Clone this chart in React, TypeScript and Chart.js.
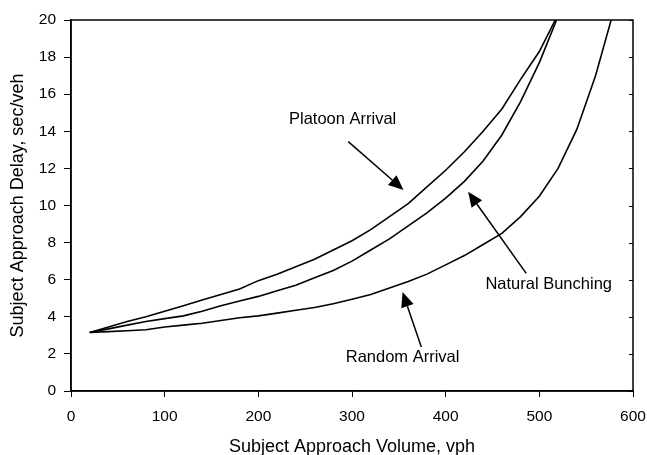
import React, { useEffect, useRef } from "react";
import { Chart, registerables } from "chart.js";

Chart.register(...registerables);

const volumes = [20, 40, 60, 80, 100, 120, 140, 160, 180, 200, 220, 240, 260, 280, 300, 320, 340, 360, 380, 400, 420, 440, 460, 480, 500, 520, 540, 560, 580];
const platoonDelay = [3.15, 3.45, 3.75, 4.0, 4.3, 4.6, 4.9, 5.2, 5.5, 5.95, 6.3, 6.7, 7.1, 7.6, 8.1, 8.7, 9.4, 10.1, 11.0, 11.9, 12.9, 14.0, 15.2, 16.8, 18.3, 20.3];
const bunchingDelay = [3.15, 3.35, 3.55, 3.75, 3.9, 4.05, 4.3, 4.6, 4.85, 5.1, 5.4, 5.7, 6.1, 6.5, 7.0, 7.6, 8.2, 8.9, 9.6, 10.4, 11.3, 12.4, 13.8, 15.6, 17.7, 20.2];
const randomDelay = [3.15, 3.2, 3.25, 3.3, 3.45, 3.55, 3.65, 3.8, 3.95, 4.05, 4.2, 4.35, 4.5, 4.7, 4.95, 5.2, 5.55, 5.9, 6.3, 6.8, 7.3, 7.9, 8.5, 9.4, 10.5, 12.0, 14.1, 17.0, 20.6];

const xTitle = "Subject Approach Volume, vph";
const yTitle = "Subject Approach Delay, sec/veh";

// annotations in data coordinates: label position, arrow tail, arrow tip
const annotationLabels = ["Platoon Arrival", "Natural Bunching", "Random Arrival"];
const annotationText = [[290, 14.66], [510, 5.77], [354, 1.82]];
const annotationTail = [[296, 13.44], [486, 6.34], [374, 2.37]];
const annotationTip = [[355, 10.84], [424, 10.74], [354, 5.34]];

const FONT = "'Liberation Sans', Arial, sans-serif";

function toPoints(vals: number[]) {
  return vals.map((v, i) => ({ x: volumes[i], y: v }));
}

const framePlugin = {
  id: "frame",
  afterDatasetsDraw(chart: any) {
    const { ctx, chartArea, scales } = chart;
    const { left, right, top, bottom } = chartArea;
    ctx.save();
    ctx.strokeStyle = "#000";
    ctx.lineWidth = 1.5;
    ctx.strokeRect(left, top, right - left, bottom - top);
    // small inward ticks on right side
    ctx.lineWidth = 1;
    const ys = scales.y;
    for (let v = 0; v <= 20; v += 2) {
      const py = Math.round(ys.getPixelForValue(v)) + 0.5;
      ctx.beginPath();
      ctx.moveTo(right, py);
      ctx.lineTo(right - 4, py);
      ctx.stroke();
    }
    // annotations
    const xs = scales.x;
    ctx.fillStyle = "#000";
    ctx.font = `16.5px ${FONT}`;
    ctx.textAlign = "center";
    ctx.textBaseline = "middle";
    annotationLabels.forEach((lab, i) => {
      const tx = xs.getPixelForValue(annotationText[i][0]);
      const ty = ys.getPixelForValue(annotationText[i][1]);
      ctx.fillText(lab, tx, ty);
      const ax = xs.getPixelForValue(annotationTail[i][0]);
      const ay = ys.getPixelForValue(annotationTail[i][1]);
      const bx = xs.getPixelForValue(annotationTip[i][0]);
      const by = ys.getPixelForValue(annotationTip[i][1]);
      const ang = Math.atan2(by - ay, bx - ax);
      const headLen = 15;
      const headW = 6.5;
      const hx = bx - headLen * Math.cos(ang);
      const hy = by - headLen * Math.sin(ang);
      ctx.lineWidth = 1.5;
      ctx.beginPath();
      ctx.moveTo(ax, ay);
      ctx.lineTo(hx, hy);
      ctx.stroke();
      ctx.beginPath();
      ctx.moveTo(bx, by);
      ctx.lineTo(hx + headW * Math.sin(ang), hy - headW * Math.cos(ang));
      ctx.lineTo(hx - headW * Math.sin(ang), hy + headW * Math.cos(ang));
      ctx.closePath();
      ctx.fill();
    });
    ctx.restore();
  },
};

export default function App() {
  const ref = useRef<HTMLCanvasElement | null>(null);
  useEffect(() => {
    if (!ref.current) return;
    const lineStyle = {
      borderColor: "#000",
      borderWidth: 1.6,
      pointRadius: 0,
      tension: 0,
      fill: false,
      clip: 0,
    };
    const chart = new Chart(ref.current, {
      type: "line",
      data: {
        datasets: [
          { label: "Platoon Arrival", data: toPoints(platoonDelay), ...lineStyle },
          { label: "Natural Bunching", data: toPoints(bunchingDelay), ...lineStyle },
          { label: "Random Arrival", data: toPoints(randomDelay), ...lineStyle },
        ],
      },
      options: {
        animation: false,
        responsive: false,
        maintainAspectRatio: false,
        layout: { padding: { top: 20, right: 14, left: 0, bottom: 0 } },
        plugins: { legend: { display: false }, tooltip: { enabled: false } },
        scales: {
          x: {
            type: "linear",
            min: 0,
            max: 600,
            ticks: { stepSize: 100, color: "#000", font: { family: FONT, size: 15.5 }, padding: 10, maxRotation: 0 },
            grid: { display: true, drawOnChartArea: false, drawTicks: true, tickLength: 6, color: "#000", lineWidth: 1 },
            border: { display: true, color: "#000", width: 1.5 },
            title: { display: true, text: xTitle, color: "#000", font: { family: FONT, size: 18 }, padding: { top: 0, bottom: -3 } },
            afterFit: (s: any) => { s.height = 64; s.paddingLeft = 0; s.paddingRight = 0; },
          },
          y: {
            type: "linear",
            min: 0,
            max: 20,
            ticks: { stepSize: 2, color: "#000", font: { family: FONT, size: 15.5 }, padding: 8 },
            grid: { display: true, drawOnChartArea: false, drawTicks: true, tickLength: 7, color: "#000", lineWidth: 1 },
            border: { display: true, color: "#000", width: 1.5 },
            title: { display: true, text: yTitle, color: "#000", font: { family: FONT, size: 18 }, padding: { top: 7, bottom: 0 } },
            afterFit: (s: any) => { s.width = 71; s.paddingTop = 0; s.paddingBottom = 0; },
          },
        },
      },
      plugins: [framePlugin],
    });
    return () => chart.destroy();
  }, []);
  return (
    <div style={{ position: "absolute", left: 0, top: 0, width: 647, height: 455, background: "#fff" }}>
      <canvas ref={ref} width={647} height={455} style={{ width: 647, height: 455 }} />
    </div>
  );
}
